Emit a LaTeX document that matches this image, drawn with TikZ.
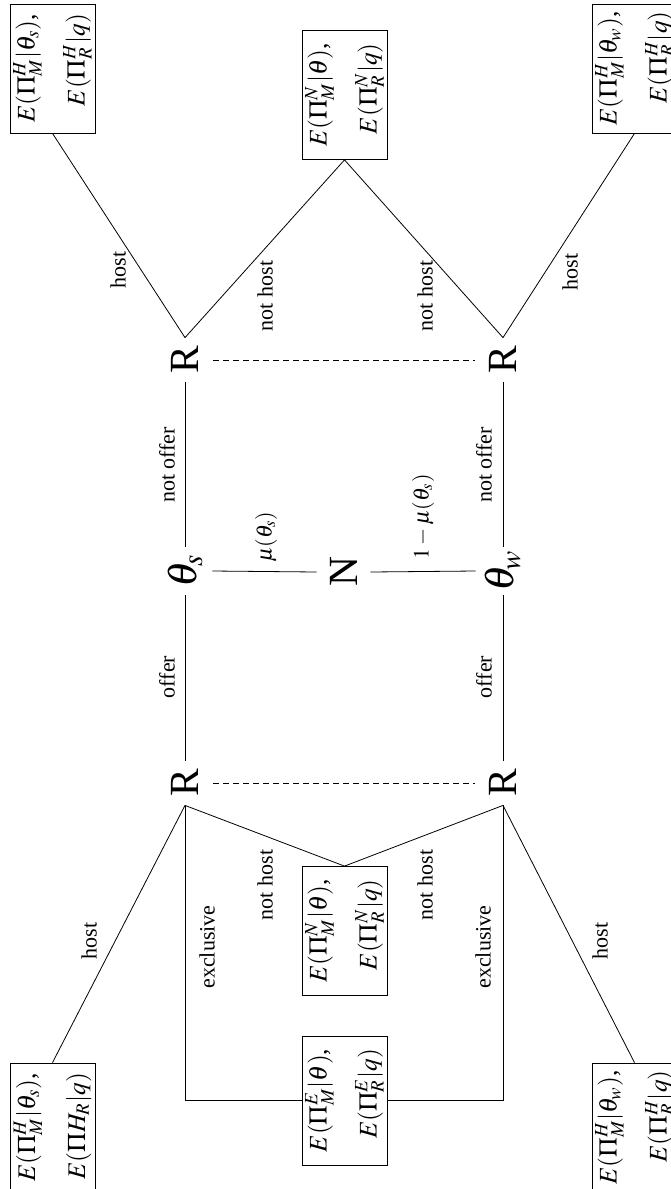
\documentclass[tikz,border=0pt]{standalone}
\usepackage{mathptmx}
\usepackage{fontspec}
\setmainfont{Liberation Serif}
\begin{document}
\begin{tikzpicture}[x=0.5pt,y=-0.5pt,
  big/.style={rotate=90, inner sep=0pt, font=\fontsize{20.74}{24}\selectfont},
  rnode/.style={big, minimum width=22pt, minimum height=27.5pt},
  tnode/.style={big, minimum width=24pt, minimum height=27pt},
  nnode/.style={big, minimum width=22pt, minimum height=26.5pt},
  pay/.style={draw, rotate=90, align=right, inner xsep=2pt, inner ysep=0.5pt, minimum width=64.5pt, minimum height=42.5pt, font=\fontsize{12.7}{25}\selectfont},
  lbl/.style={rotate=90, inner sep=0pt, font=\fontsize{11}{13}\selectfont},
  dsh/.style={dash pattern=on 3pt off 2pt}
]
\useasboundingbox (0,0) rectangle (670,1189);
% decision nodes
\node[rnode] (RTL) at (185,360) {R};
\node[rnode] (RTR) at (503,360) {R};
\node[rnode] (RBL) at (185,783) {R};
\node[rnode] (RBR) at (503,783) {R};
\node[tnode] (ts) at (185,571) {$\theta_s$};
\node[nnode] (N) at (343.5,572) {N};
\node[tnode] (tw) at (503,571) {$\theta_w$};
% payoff boxes
\node[pay] (bTL) at (52.5,68.5) {$E(\Pi^H_M|\theta_s)$,\\ $E(\Pi^H_R|q)$};
\node[pay] (bTM) at (344.5,95) {$E(\Pi^N_M|\theta)$,\\ $E(\Pi^N_R|q)$};
\node[pay] (bTR) at (634.5,68.5) {$E(\Pi^H_M|\theta_w)$,\\ $E(\Pi^H_R|q)$};
\node[pay] (bBL) at (52.5,1127.5) {$E(\Pi^H_M|\theta_s)$,\\ $E(\Pi H_R|q)$};
\node[pay] (bBM) at (344.5,931) {$E(\Pi^N_M|\theta)$,\\ $E(\Pi^N_R|q)$};
\node[pay] (bE) at (344.5,1100.5) {$E(\Pi^E_M|\theta)$,\\ $E(\Pi^E_R|q)$};
\node[pay] (bBR) at (634.5,1127.5) {$E(\Pi^H_M|\theta_w)$,\\ $E(\Pi^H_R|q)$};
% connectors
\draw (RTL.east) -- (bTL.west);
\draw (RTL.east) -- (bTM.west);
\draw (RTR.east) -- (bTM.west);
\draw (RTR.east) -- (bTR.west);
\draw (RTL.west) -- (ts.east);
\draw (ts.west) -- (RBL.east);
\draw (RTR.west) -- (tw.east);
\draw (tw.west) -- (RBR.east);
\draw (ts.south) -- (N.north);
\draw (N.south) -- (tw.north);
\draw[dsh] (RTL.south) -- (RTR.north);
\draw[dsh] (RBL.south) -- (RBR.north);
\draw (RBL.west) -- (bBL.east);
\draw (RBL.west) -- (bBM.east);
\draw (RBR.west) -- (bBM.east);
\draw (RBR.west) -- (bBR.east);
\draw (RBL.west) |- (bE.north);
\draw (RBR.west) |- (bE.south);
% labels
\node[lbl] (l1) at (118,270) {host};
\node[lbl] (l2) at (265,296) {not host};
\node[lbl] (l3) at (425,296) {not host};
\node[lbl] (l4) at (570,272) {host};
\node[lbl] (l5) at (167,465) {not offer};
\node[lbl] (l6) at (484,465) {not offer};
\node[lbl] (l7) at (167,677) {offer};
\node[lbl] (l8) at (484,677) {offer};
\node[lbl] (l9) at (266,537) {$\mu(\theta_s)$};
\node[lbl] (l10) at (423,517) {$1-\mu(\theta_s)$};
\node[lbl] (l11) at (265,885) {not host};
\node[lbl] (l12) at (425,885) {not host};
\node[lbl] (l13) at (207,947) {exclusive};
\node[lbl] (l14) at (483,947) {exclusive};
\node[lbl] (l15) at (89,941) {host};
\node[lbl] (l16) at (600,941) {host};
\end{tikzpicture}
\end{document}
